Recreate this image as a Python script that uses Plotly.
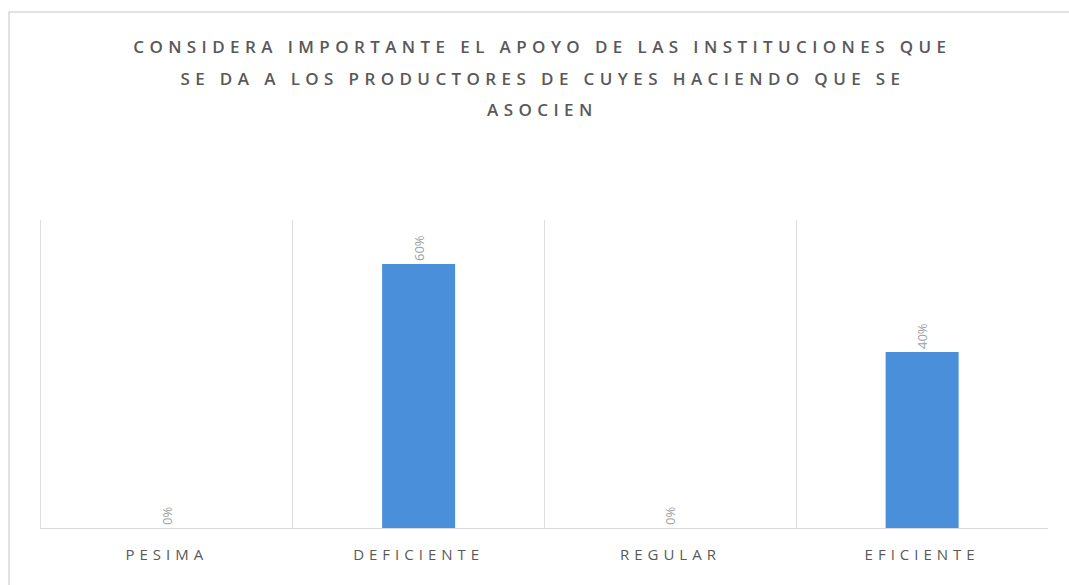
import plotly.graph_objects as go

categories = ["PESIMA", "DEFICIENTE", "REGULAR", "EFICIENTE"]
values = [0.0, 0.60, 0.0, 0.40]
labels = ["0%", "60%", "0%", "40%"]
title_lines = [
    "CONSIDERA IMPORTANTE EL APOYO DE LAS INSTITUCIONES QUE",
    "SE DA A LOS PRODUCTORES DE CUYES HACIENDO QUE SE",
    "ASOCIEN",
]

PLOT_TOP, PLOT_BOTTOM = 220, 528
PLOT_H = PLOT_BOTTOM - PLOT_TOP
title_pix_y = [47, 79, 110]

fig = go.Figure()
fig.add_trace(go.Bar(
    x=categories,
    y=values,
    text=labels,
    textposition="outside",
    textangle=-90,
    textfont=dict(family="Open Sans", size=13, color="#a0a0a0"),
    marker=dict(color="#4a8fd9", line=dict(width=0)),
    width=0.29,
    cliponaxis=False,
    hoverinfo="skip",
))

annotations = []
for line, py in zip(title_lines, title_pix_y):
    annotations.append(dict(
        text=line, xref="paper", yref="paper",
        x=0.4985, y=(PLOT_BOTTOM - py) / PLOT_H,
        xanchor="center", yanchor="middle", showarrow=False,
        font=dict(family="Open Sans", size=17, color="#595959", weight=600),
    ))

fig.update_layout(
    width=1069,
    height=585,
    paper_bgcolor="white",
    plot_bgcolor="white",
    margin=dict(l=41, r=21, t=PLOT_TOP, b=585 - PLOT_BOTTOM),
    showlegend=False,
    annotations=annotations,
    xaxis=dict(
        tickson="boundaries",
        showgrid=True,
        gridcolor="#dedede",
        gridwidth=1,
        showline=True,
        linecolor="#d9d9d9",
        linewidth=1,
        ticks="",
        ticklabelstandoff=13,
        tickfont=dict(family="Open Sans", size=15, color="#595959"),
        zeroline=False,
    ),
    yaxis=dict(
        range=[0, 0.70],
        showgrid=False,
        showticklabels=False,
        showline=True,
        linecolor="#dedede",
        zeroline=False,
        ticks="",
    ),
    shapes=[
        dict(type="rect", xref="paper", yref="paper",
             x0=(9 - 41) / 1007, x1=1.05, y0=-0.2, y1=(PLOT_BOTTOM - 12) / PLOT_H,
             line=dict(color="#d9d9d9", width=1.5), fillcolor="rgba(0,0,0,0)",
             layer="below"),
    ],
)

post = """
document.body.style.margin = '0';
var st = document.createElement('style');
st.innerHTML = 'body{margin:0 !important;} .annotation-text {letter-spacing: 5.4px;} .xtick text {letter-spacing: 5px;}';
document.head.appendChild(st);
"""
fig.write_html("out.html", post_script=post, config={"displayModeBar": False})
